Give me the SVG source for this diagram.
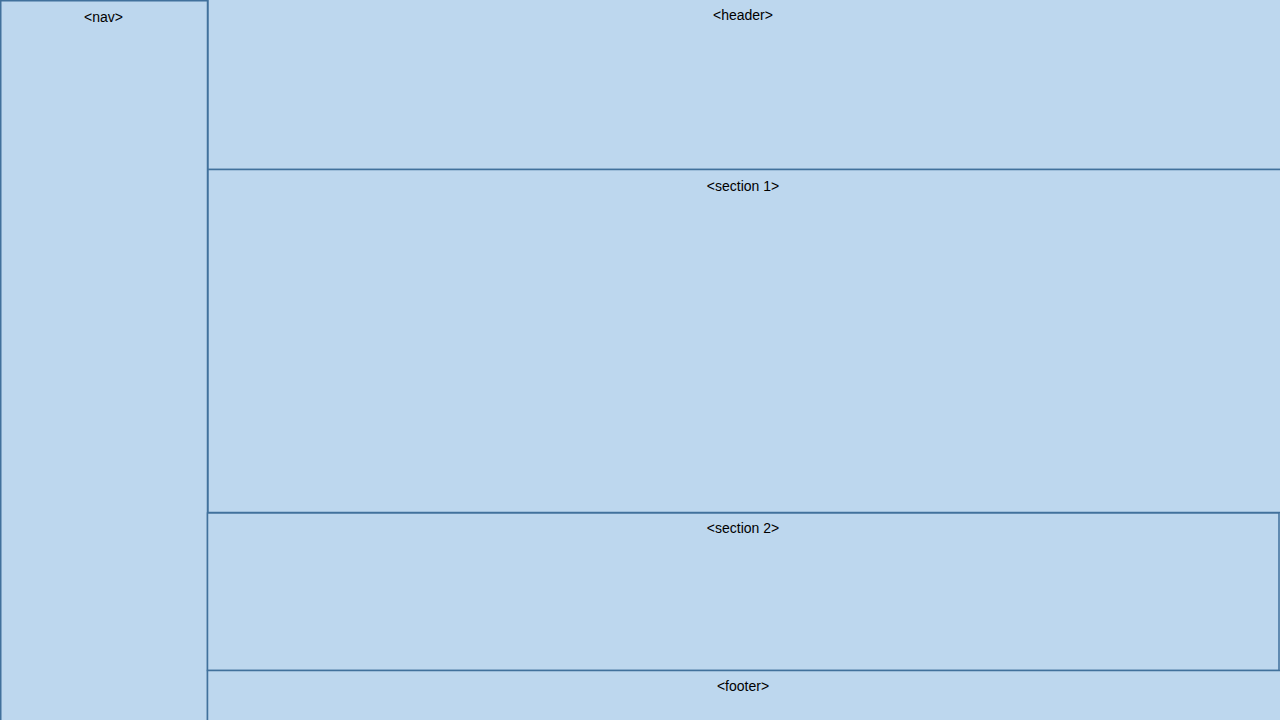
<svg xmlns="http://www.w3.org/2000/svg" width="1280" height="720" viewBox="0 0 1280 720">
<style>
.box{fill:#BDD7EE;stroke:#41719C;stroke-width:1.5}
.lbl{font-family:"Liberation Sans",Arial,sans-serif;font-size:14px;fill:#000;text-anchor:middle}
</style>
<rect x="0" y="0" width="1280" height="720" fill="#BDD7EE"/>
<g id="nav">
<rect class="box" x="0.75" y="0.75" width="206.75" height="730"/>
<text class="lbl" x="103.5" y="22">&lt;nav&gt;</text>
</g>
<g id="header">
<rect class="box" x="208" y="-2" width="1080" height="171.5" stroke-width="1"/>
<text class="lbl" x="743" y="20">&lt;header&gt;</text>
</g>
<g id="section1">
<rect class="box" x="208" y="169.5" width="1080" height="343"/>
<text class="lbl" x="743" y="191">&lt;section 1&gt;</text>
</g>
<g id="section2">
<rect class="box" x="207.5" y="513" width="1071.5" height="157.5" stroke-width="1.25"/>
<text class="lbl" x="743" y="533">&lt;section 2&gt;</text>
</g>
<g id="footer">
<rect class="box" x="207.5" y="670.5" width="1080" height="60" stroke-width="1.25"/>
<text class="lbl" x="743" y="691">&lt;footer&gt;</text>
</g>
<g id="connectors"/>
</svg>
